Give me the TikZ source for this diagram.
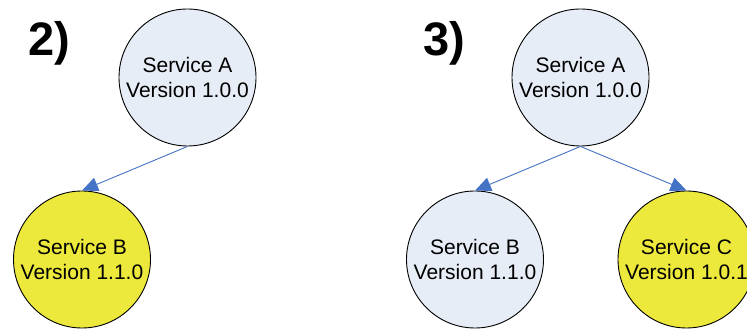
\documentclass[tikz,border=0pt]{standalone}
\usepackage{fontspec}
\setmainfont{Liberation Sans}
\usetikzlibrary{arrows.meta}
\definecolor{svcblue}{RGB}{231,237,246}
\definecolor{svcyellow}{RGB}{237,232,60}
\definecolor{linkblue}{RGB}{68,114,196}
\tikzset{
  svc/.style={circle, draw=black, line width=0.9pt, minimum size=137pt, inner sep=0pt,
    align=center, font=\fontsize{21}{25}\selectfont},
  svcold/.style={svc, fill=svcblue},
  svcnew/.style={svc, fill=svcyellow},
  link/.style={draw=linkblue, line width=0.9pt,
    -{Triangle[length=16pt,width=14pt]}},
  steplabel/.style={anchor=base west, inner sep=0pt,
    font=\fontsize{47}{52}\selectfont\bfseries}
}
\begin{document}
\begin{tikzpicture}[x=1pt,y=1pt]
\useasboundingbox (0,0) rectangle (747,329);
\node[steplabel] (l2) at (28,273) {2)};
\node[steplabel] (l3) at (423,273) {3)};
\node[svcold] (a1) at (187.5,251.5) {Service A\\Version 1.0.0};
\node[svcnew] (b1) at (82,69.5) {Service B\\Version 1.1.0};
\node[svcold] (a2) at (580.5,251.5) {Service A\\Version 1.0.0};
\node[svcold] (b2) at (475,69.5) {Service B\\Version 1.1.0};
\node[svcnew] (c2) at (686.5,69.5) {Service C\\Version 1.0.1};
\draw[link] (a1.south) -- (b1.north);
\draw[link] (a2.south) -- (b2.north);
\draw[link] (a2.south) -- (c2.north);
\end{tikzpicture}
\end{document}
